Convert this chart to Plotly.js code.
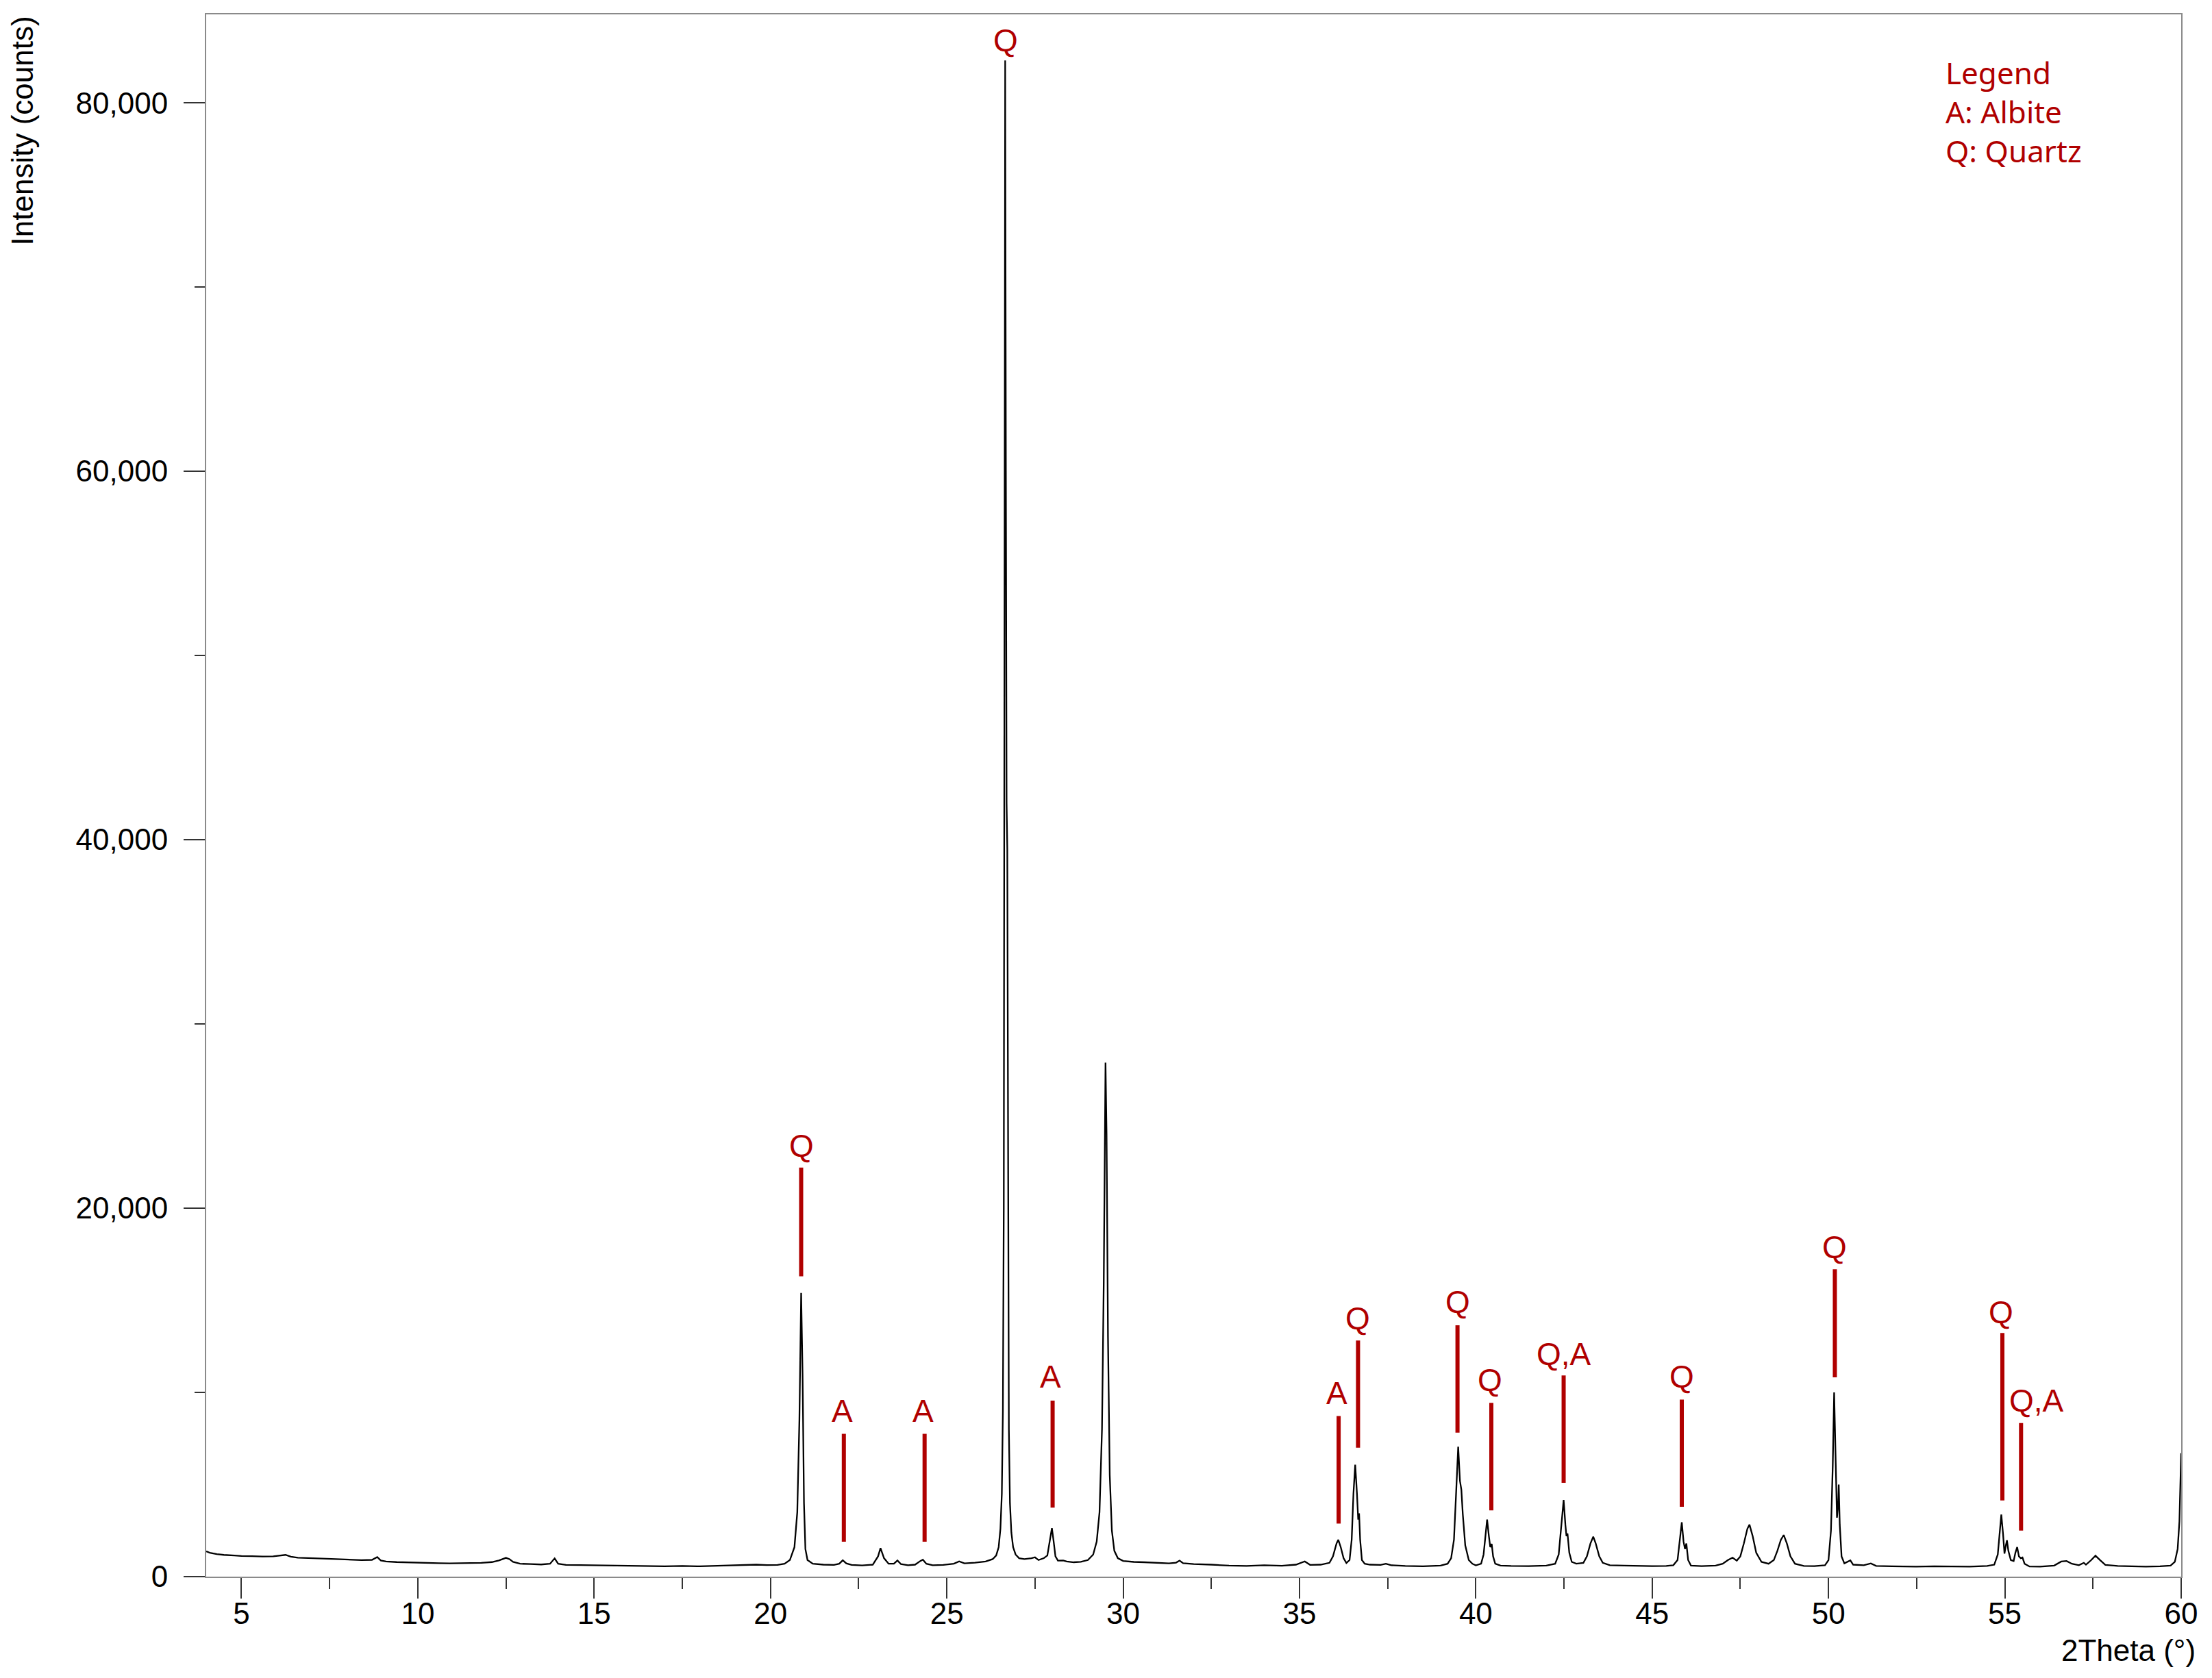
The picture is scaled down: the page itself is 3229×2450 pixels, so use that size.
<!DOCTYPE html>
<html>
<head>
<meta charset="utf-8">
<script src="https://cdn.plot.ly/plotly-3.0.1.min.js"></script>
<style>
  html, body { margin: 0; padding: 0; background: #ffffff; }
  #chart { width: 3229px; height: 2450px; }
</style>
</head>
<body>
<div id="chart"></div>
<script>
// ---- Diffractogram (2Theta in degrees, intensity in counts) ----
const twoTheta = [
  4.0, 4.1, 4.3, 4.5, 4.8, 5.0, 5.3, 5.6, 5.9, 6.1, 6.25, 6.4, 6.6, 6.9, 7.2, 7.5, 7.8, 8.1, 8.4, 8.7,
  8.85, 8.95, 9.1, 9.4, 9.7, 10.0, 10.3, 10.6, 10.9, 11.2, 11.5, 11.8, 12.1, 12.3, 12.5, 12.6, 12.7, 12.9,
  13.2, 13.5, 13.75, 13.88, 13.98, 14.2, 14.6, 15.0, 15.5, 16.0, 16.5, 17.0, 17.5, 18.0, 18.5, 19.0, 19.3,
  19.6, 19.9, 20.2, 20.4, 20.55, 20.68, 20.76, 20.82, 20.87, 20.91, 20.95, 20.99, 21.05, 21.2, 21.5, 21.8,
  21.95, 22.05, 22.15, 22.3, 22.6, 22.9, 23.05, 23.12, 23.22, 23.35, 23.5, 23.6, 23.7, 23.9, 24.1, 24.25,
  24.32, 24.42, 24.6, 24.9, 25.2, 25.35, 25.5, 25.8, 26.1, 26.3, 26.4, 26.47, 26.52, 26.56, 26.59, 26.615,
  26.635, 26.655, 26.675, 26.695, 26.715, 26.735, 26.76, 26.79, 26.83, 26.88, 26.95, 27.05, 27.2, 27.4,
  27.5, 27.6, 27.75, 27.85, 27.92, 27.98, 28.03, 28.08, 28.15, 28.3, 28.4, 28.6, 28.8, 29.0, 29.15, 29.25,
  29.33, 29.4, 29.45, 29.5, 29.53, 29.57, 29.62, 29.68, 29.75, 29.85, 30.0, 30.3, 30.6, 31.0, 31.3, 31.5,
  31.6, 31.7, 32.0, 32.5, 33.0, 33.5, 34.0, 34.5, 34.9, 35.15, 35.3, 35.6, 35.85, 35.95, 36.05, 36.1,
  36.17, 36.25, 36.33, 36.42, 36.48, 36.53, 36.58, 36.63, 36.665, 36.69, 36.72, 36.77, 36.85, 37.0, 37.3,
  37.45, 37.6, 38.0, 38.5, 39.0, 39.2, 39.3, 39.38, 39.44, 39.5, 39.55, 39.59, 39.63, 39.7, 39.8, 39.9,
  40.0, 40.15, 40.22, 40.28, 40.32, 40.37, 40.41, 40.45, 40.49, 40.55, 40.7, 41.0, 41.5, 42.0, 42.25,
  42.35, 42.43, 42.49, 42.54, 42.57, 42.6, 42.65, 42.72, 42.85, 43.05, 43.15, 43.25, 43.33, 43.4, 43.5,
  43.6, 43.8, 44.2, 44.6, 45.0, 45.4, 45.6, 45.72, 45.79, 45.84, 45.89, 45.93, 45.97, 46.02, 46.1, 46.4,
  46.8, 47.0, 47.15, 47.28, 47.4, 47.5, 47.6, 47.7, 47.76, 47.85, 47.95, 48.1, 48.3, 48.45, 48.55, 48.65,
  48.73, 48.82, 48.92, 49.05, 49.3, 49.6, 49.9, 50.0, 50.07, 50.12, 50.16, 50.2, 50.24, 50.27, 50.29,
  50.32, 50.37, 50.45, 50.62, 50.7, 51.0, 51.2, 51.35, 51.8, 52.5, 53.0, 53.5, 54.0, 54.5, 54.7, 54.8,
  54.86, 54.9, 54.95, 54.99, 55.03, 55.06, 55.1, 55.17, 55.25, 55.3, 55.35, 55.4, 55.45, 55.5, 55.56,
  55.7, 56.0, 56.4, 56.6, 56.75, 56.9, 57.1, 57.24, 57.3, 57.45, 57.57, 57.7, 57.85, 58.2, 58.6, 59.0,
  59.4, 59.7, 59.82, 59.9, 59.95, 60.0
];
const counts = [
  1370, 1300, 1220, 1180, 1150, 1120, 1110, 1090, 1100, 1130, 1180, 1080, 1030, 1010, 990, 960, 930, 910, 900, 910,
  1060, 880, 820, 790, 770, 760, 740, 730, 720, 730, 720, 750, 790, 880, 1020, 950, 800, 700,
  680, 660, 700, 990, 700, 640, 630, 620, 610, 580, 560, 560, 580, 560, 590, 620, 650,
  650, 630, 640, 700, 900, 1600, 3500, 8500, 15400, 11000, 4000, 1500, 900, 700, 650, 640,
  700, 890, 720, 640, 610, 650, 1100, 1550, 1000, 700, 700, 880, 680, 620, 650, 850,
  920, 700, 620, 640, 700, 830, 720, 760, 820, 950, 1150, 1600, 2600, 4500, 9000, 20000,
  45000, 82300, 60000, 42000, 39500, 22000, 8000, 4000, 2400, 1600, 1200, 1000, 950, 1000,
  1050, 900, 1000, 1150, 1900, 2630, 1900, 1100, 870, 880, 820, 780, 800, 900, 1200, 1900,
  3500, 8000, 16000, 27900, 24000, 13000, 5500, 2500, 1400, 1000, 850, 800, 780, 740, 720, 760,
  870, 730, 680, 650, 600, 580, 620, 590, 650, 830, 640, 650, 750, 1100, 1800, 2000,
  1600, 1000, 740, 900, 2000, 4500, 6080, 4500, 3100, 3440, 2000, 900, 700, 650, 640,
  700, 620, 580, 560, 600, 700, 1000, 2000, 4500, 7050, 5200, 4720, 3400, 1700, 900, 700,
  610, 700, 1200, 2400, 3100, 2200, 1600, 1780, 1100, 700, 600, 580, 570, 600, 700,
  1200, 2800, 4160, 2800, 2200, 2340, 1300, 800, 700, 750, 1100, 1800, 2170, 1800, 1100,
  750, 620, 600, 580, 570, 580, 620, 900, 2000, 2950, 1900, 1500, 1800, 900, 600, 570,
  600, 700, 900, 1030, 870, 1100, 1800, 2600, 2820, 2200, 1300, 800, 700, 900, 1400, 2000,
  2260, 1800, 1100, 700, 580, 570, 620, 900, 2500, 6000, 10000, 7000, 3200, 3800, 5000,
  2800, 1100, 720, 880, 650, 620, 720, 580, 560, 540, 560, 560, 540, 580, 650, 1200,
  2600, 3370, 2300, 1250, 1700, 1970, 1400, 900, 850, 1300, 1600, 1100, 1000, 1040, 700,
  550, 540, 600, 820, 850, 700, 620, 750, 650, 900, 1140, 900, 640, 580, 560, 540,
  560, 600, 800, 1500, 3000, 6700
];

// ---- Phase identification marks ----
const markerLabel = ['Q', 'A', 'A', 'A', 'A', 'Q', 'Q', 'Q', 'Q,A', 'Q', 'Q', 'Q', 'Q,A', 'Q'];
const markerX     = [20.87, 22.08, 24.37, 28.0, 36.11, 36.66, 39.48, 40.44, 42.49, 45.84, 50.18, 54.93, 55.46, 26.66];
const labelX      = [20.87, 22.03, 24.33, 27.94, 36.06, 36.66, 39.48, 40.41, 42.49, 45.84, 50.18, 54.9, 55.9, 26.66];
const labelY      = [23400, 9000, 9000, 10850, 9950, 14000, 14900, 10670, 12090, 10850, 17900, 14350, 9550, 83400];
const lineTop     = [22200, 7750, 7750, 9550, 8720, 12820, 13640, 9430, 10920, 9610, 16680, 13230, 8340, null];
const lineBottom  = [16300, 1900, 1900, 3750, 2880, 7000, 7820, 3600, 5090, 3790, 10820, 4140, 2500, null];

const legendLines = ['Legend', 'A: Albite', 'Q: Quartz'];
const yTitle = 'Intensity (counts)';
const xTitle = '2Theta (°)';

const RED = '#B00000';
const AXIS = '#8a8a8a';
const TICK = '#333333';

const shapes = [];
const annotations = [];
for (let i = 0; i < markerLabel.length; i++) {
  if (lineTop[i] !== null) {
    shapes.push({
      type: 'line', xref: 'x', yref: 'y',
      x0: markerX[i], x1: markerX[i], y0: lineBottom[i], y1: lineTop[i],
      line: { color: RED, width: 6 }, layer: 'above'
    });
  }
  annotations.push({
    xref: 'x', yref: 'y', x: labelX[i], y: labelY[i],
    text: markerLabel[i], showarrow: false,
    xanchor: 'center', yanchor: 'middle',
    font: { family: 'Liberation Sans, Arial, sans-serif', size: 46, color: RED }
  });
}
annotations.push({
  xref: 'paper', yref: 'paper', x: 0.880, y: 0.9377,
  xanchor: 'left', yanchor: 'middle', align: 'left',
  text: legendLines.join('<br>'), showarrow: false,
  font: { family: 'Noto Sans, sans-serif', size: 44, color: RED }
});
annotations.push({
  xref: 'paper', yref: 'paper', x: -0.093, y: 1.0,
  xanchor: 'center', yanchor: 'top', textangle: -90,
  text: yTitle, showarrow: false,
  font: { family: 'Liberation Sans, Arial, sans-serif', size: 44, color: '#000000' }
});
annotations.push({
  xref: 'paper', yref: 'paper', x: 1.008, y: -0.0473,
  xanchor: 'right', yanchor: 'middle',
  text: xTitle, showarrow: false,
  font: { family: 'Liberation Sans, Arial, sans-serif', size: 44, color: '#000000' }
});

const trace = {
  type: 'scatter', mode: 'lines',
  x: twoTheta, y: counts,
  line: { color: '#000000', width: 2.3 },
  hoverinfo: 'skip', showlegend: false
};

const tickFont = { family: 'Liberation Sans, Arial, sans-serif', size: 44, color: '#000000' };

const layout = {
  width: 3229, height: 2450,
  margin: { l: 301, r: 45, t: 21, b: 148, pad: 0 },
  paper_bgcolor: '#ffffff', plot_bgcolor: '#ffffff',
  showlegend: false,
  xaxis: {
    range: [4, 60], tick0: 5, dtick: 5, tickmode: 'linear',
    showgrid: false, zeroline: false,
    showline: true, linecolor: AXIS, linewidth: 2, mirror: true,
    ticks: 'outside', ticklen: 30, tickwidth: 2, tickcolor: TICK,
    tickfont: tickFont, ticklabelstandoff: -16,
    minor: { dtick: 2.5, tick0: 2.5, ticks: 'outside', ticklen: 16, tickwidth: 2, tickcolor: TICK, showgrid: false }
  },
  yaxis: {
    range: [0, 84800], tick0: 0, dtick: 20000, tickmode: 'linear',
    tickformat: ',.0f',
    showgrid: false, zeroline: false,
    showline: true, linecolor: AXIS, linewidth: 2, mirror: true,
    ticks: 'outside', ticklen: 31, tickwidth: 2, tickcolor: TICK,
    tickfont: tickFont, ticklabelstandoff: 14,
    minor: { dtick: 10000, tick0: 0, ticks: 'outside', ticklen: 15, tickwidth: 2, tickcolor: TICK, showgrid: false }
  },
  shapes: shapes,
  annotations: annotations
};

Plotly.newPlot('chart', [trace], layout, { staticPlot: true, displayModeBar: false });
</script>
</body>
</html>
